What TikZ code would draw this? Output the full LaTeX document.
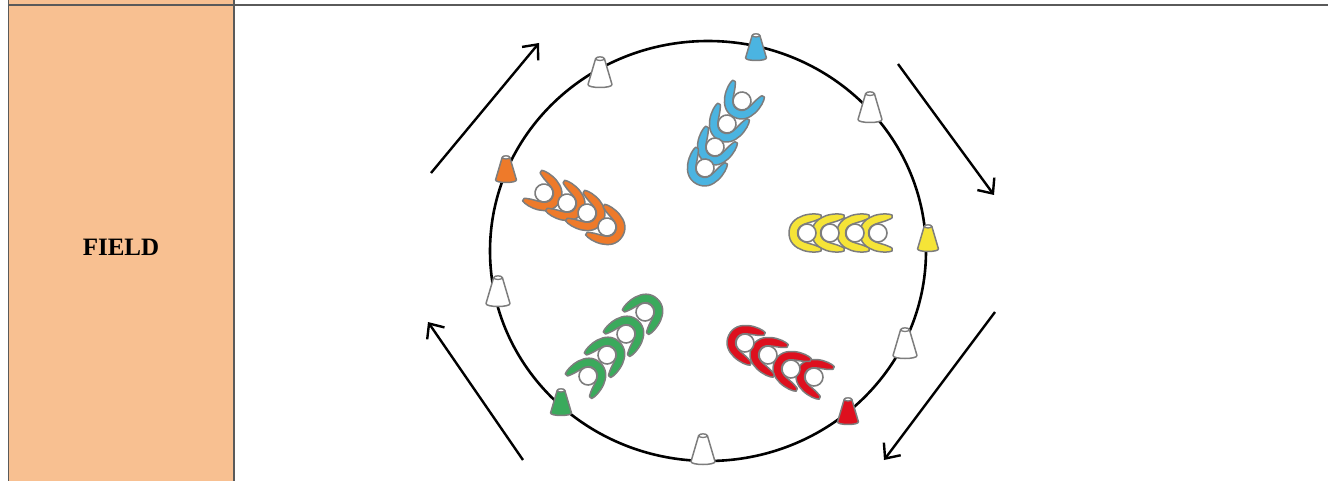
\documentclass[tikz,border=0pt]{standalone}
\usepackage{fontspec}
\setmainfont{Liberation Serif}
\usetikzlibrary{arrows.meta}

\definecolor{cellfill}{RGB}{248,192,145}
\definecolor{gridline}{RGB}{90,90,90}
\definecolor{figline}{RGB}{125,125,125}
\definecolor{teamblue}{RGB}{75,180,225}
\definecolor{teamyellow}{RGB}{245,228,55}
\definecolor{teamorange}{RGB}{238,122,42}
\definecolor{teamgreen}{RGB}{58,170,92}
\definecolor{teamred}{RGB}{222,16,30}

\tikzset{
  gridrule/.style={draw=gridline, line width=1.6},
  runarrow/.style={draw=black, line width=2.4, -{Straight Barb[length=12, width=21, line width=2.4]}},
  % one player seen from above: crescent of shoulders and arms, then the head
  pics/player/.style={code={
    \draw[figline, fill=#1, line width=1.5, line join=round]
      (14,-18) .. controls (8,-21) and (-18,-19) .. (-18,0)
      .. controls (-18,19) and (8,21) .. (14,18)
      .. controls (14.5,15) .. (11,13.5)
      .. controls (3,9.5) and (-9.5,10) .. (-9.5,0)
      .. controls (-9.5,-10) and (3,-9.5) .. (11,-13.5)
      .. controls (14.5,-15) .. cycle;
    \draw[figline, fill=white, line width=1.6] (0,0) circle (9);
  }},
  % a training cone
  pics/cone/.style={code={
    \draw[figline, fill=#1, line width=1.5, line join=round]
      (-4.5,-13) -- (-12,12.5) .. controls (-12,16.5) and (12,16.5) .. (12,12.5)
      -- (4.5,-13) .. controls (4.5,-15.5) and (-4.5,-15.5) .. cycle;
    \draw[figline, fill=white, line width=1.3] (0,-13.3) ellipse [x radius=4.2, y radius=1.8];
  }}
}

\begin{document}
\begin{tikzpicture}[x=1pt, y=-1pt]
  \useasboundingbox (0,0) rectangle (1328,481);

  % table cell with the label
  \fill[cellfill] (8.5,0) rectangle (234,481);
  \draw[gridrule] (8.5,0) -- (8.5,481);
  \draw[gridrule] (234,0) -- (234,481);
  \draw[gridrule] (8.5,5) -- (1328,5);
  \node[font=\bfseries\fontsize{25}{30}\selectfont] (label) at (121,247) {FIELD};

  % the playing circle
  \draw[black, line width=2.6] (708,251) ellipse [x radius=218, y radius=210];

  % cones round the circle
  \pic at (600,72)  {cone=white};
  \pic[scale=0.87] at (756,47)  {cone=teamblue};
  \pic at (870,107) {cone=white};
  \pic[scale=0.87] at (928,238) {cone=teamyellow};
  \pic at (905,343) {cone=white};
  \pic[scale=0.87] at (848,411) {cone=teamred};
  \pic at (703,449) {cone=white};
  \pic[scale=0.87] at (561,402) {cone=teamgreen};
  \pic at (498,291) {cone=white};
  \pic[scale=0.87] at (506,169) {cone=teamorange};

  % running direction
  \coordinate (r1a) at (431,173); \coordinate (r1b) at (539,43);
  \coordinate (r2a) at (898,64);  \coordinate (r2b) at (994,195);
  \coordinate (r3a) at (995,312); \coordinate (r3b) at (884,460);
  \coordinate (r4a) at (523,460); \coordinate (r4b) at (428,322);
  \draw[runarrow] (r1a) -- (r1b);
  \draw[runarrow] (r2a) -- (r2b);
  \draw[runarrow] (r3a) -- (r3b);
  \draw[runarrow] (r4a) -- (r4b);

  % blue line
  \pic[rotate=62] at (742,101) {player=teamblue};
  \pic[rotate=62] at (727,124) {player=teamblue};
  \pic[rotate=62] at (715,147) {player=teamblue};
  \pic[rotate=62] at (705,168) {player=teamblue};

  % yellow line
  \pic at (878,233) {player=teamyellow};
  \pic at (855,233) {player=teamyellow};
  \pic at (830,233) {player=teamyellow};
  \pic at (807,233) {player=teamyellow};

  % orange line
  \pic[rotate=148] at (544,193) {player=teamorange};
  \pic[rotate=148] at (567,203) {player=teamorange};
  \pic[rotate=148] at (587,213) {player=teamorange};
  \pic[rotate=148] at (607,227) {player=teamorange};

  % green line
  \pic[rotate=227] at (588,376) {player=teamgreen};
  \pic[rotate=227] at (607,355) {player=teamgreen};
  \pic[rotate=227] at (626,334) {player=teamgreen};
  \pic[rotate=227] at (645,312) {player=teamgreen};

  % red line
  \pic[rotate=-25] at (814,377) {player=teamred};
  \pic[rotate=-25] at (791,369) {player=teamred};
  \pic[rotate=-25] at (768,355) {player=teamred};
  \pic[rotate=-25] at (745,343) {player=teamred};
\end{tikzpicture}
\end{document}
